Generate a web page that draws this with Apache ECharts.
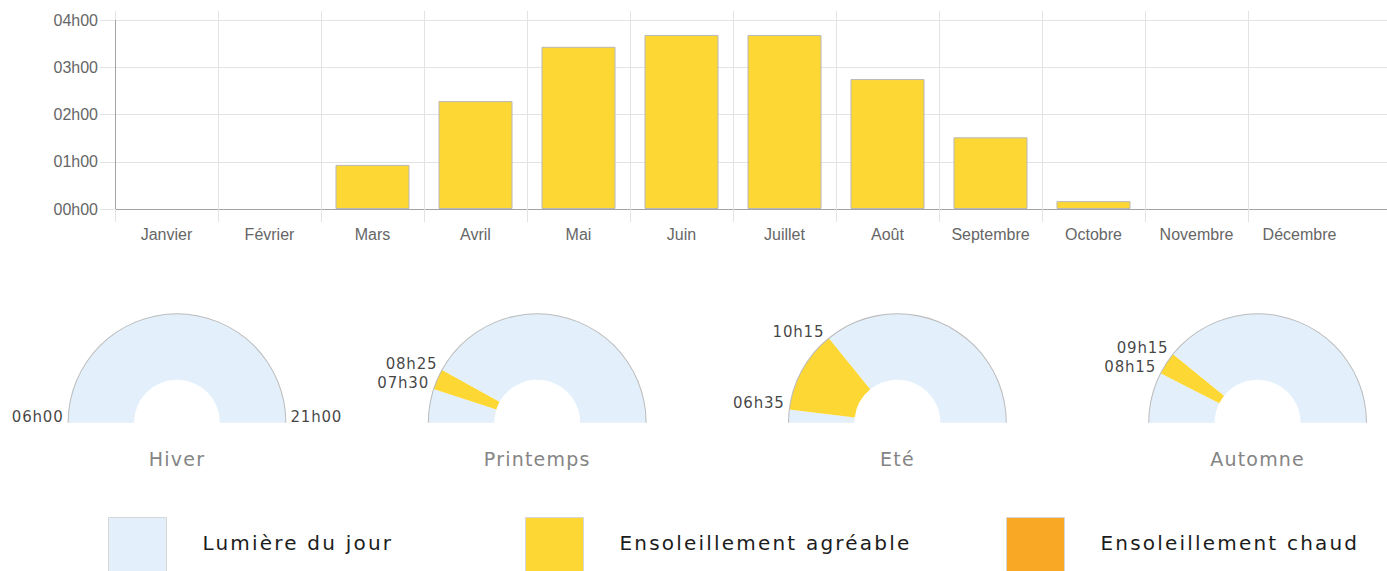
<!DOCTYPE html>
<html lang="fr">
<head>
<meta charset="utf-8">
<title>Ensoleillement</title>
<script src="https://cdn.jsdelivr.net/npm/echarts@6.0.0/dist/echarts.min.js"></script>
<style>
  html, body { margin: 0; padding: 0; background: #fff; }
  #chart { width: 1387px; height: 571px; }
  /* echarts has no letterSpacing option, with the svg renderer css can do it */
  #chart text[style*="19px"] { letter-spacing: 1.2px; }
  #chart text[style*="20px"] { letter-spacing: 2.2px; }
  #chart text[style*="15px"] { letter-spacing: 0.8px; }
</style>
</head>
<body>
<div id="chart"></div>
<script>
// monthly hours of pleasant sunshine, in minutes
const months = ['Janvier', 'Février', 'Mars', 'Avril', 'Mai', 'Juin', 'Juillet', 'Août', 'Septembre', 'Octobre', 'Novembre', 'Décembre'];
const agreableMinutes = [0, 0, 56, 137, 206, 221, 221, 165, 91, 10, 0, 0];
const chaudMinutes = [0, 0, 0, 0, 0, 0, 0, 0, 0, 0, 0, 0];

// one half donut per season: daylight span and pleasant sunshine span
const seasons = ['Hiver', 'Printemps', 'Eté', 'Automne'];
const dayStart = ['06h00', '06h00', '06h00', '06h00'];
const dayEnd = ['21h00', '21h00', '21h00', '21h00'];
const sunStart = [null, '07h30', '06h35', '08h15'];
const sunEnd = [null, '08h25', '10h15', '09h15'];

const legendNames = ['Lumière du jour', 'Ensoleillement agréable', 'Ensoleillement chaud'];

const BLUE = '#e3f0fb';
const YELLOW = '#fdd835';
const ORANGE = '#f9a825';
const GRID = '#e3e3e3';
const AXIS = '#a3a3a3';
const SANS = '"Liberation Sans", Arial, sans-serif';
const ROUND = '"DejaVu Sans", sans-serif';

const toMin = (s) => {
  const [h, m] = s.split('h').map(Number);
  return h * 60 + m;
};
const pad = (n) => String(n).padStart(2, '0');
const fmt = (m) => pad(Math.floor(m / 60)) + 'h' + pad(m % 60);
// empty months draw no bar at all
const bars = (arr) => arr.map((v) => (v ? v : '-'));

const chart = echarts.init(document.getElementById('chart'), null, { renderer: 'svg' });

// bands are 103px wide, the axis keeps going to the right edge,
// so an empty 13th band is added and its boundary line hidden
const keepBoundary = (i) => i < months.length;
const band = 103;

const CY = 422.7;
const R_OUT = 109;
const R_IN = 43;
const cx = (i) => 177 + i * 360.2;

const pies = [];
const rings = [];
const marks = [];
const polar = [];
const angleAxis = [];
const radiusAxis = [];
const titles = [];

seasons.forEach((season, i) => {
  const d0 = toMin(dayStart[i]);
  const span = toMin(dayEnd[i]) - d0;
  let slices;
  let points;
  if (sunStart[i]) {
    const a = toMin(sunStart[i]) - d0;
    const b = toMin(sunEnd[i]) - d0;
    slices = [
      { name: legendNames[0], value: a, itemStyle: { color: BLUE } },
      { name: legendNames[1], value: b - a, itemStyle: { color: YELLOW } },
      { name: legendNames[0], value: span - b, itemStyle: { color: BLUE } },
    ];
    points = [
      { name: sunStart[i], value: [1, a], label: { position: 'left' } },
      { name: sunEnd[i], value: [1, b], label: { position: 'left' } },
    ];
  } else {
    slices = [{ name: legendNames[0], value: span, itemStyle: { color: BLUE } }];
    points = [
      { name: dayStart[i], value: [1, 0], label: { position: 'left' } },
      { name: dayEnd[i], value: [1, span], label: { position: 'right' } },
    ];
  }

  pies.push({
    type: 'pie',
    name: season,
    center: [cx(i), CY],
    radius: [R_IN, R_OUT],
    startAngle: 180,
    endAngle: 0,
    clockwise: true,
    silent: true,
    label: { show: false },
    labelLine: { show: false },
    data: slices,
  });
  rings.push({
    type: 'pie',
    name: 'contour',
    center: [cx(i), CY],
    radius: [R_OUT - 0.6, R_OUT + 0.4],
    startAngle: 180,
    endAngle: 0,
    silent: true,
    label: { show: false },
    labelLine: { show: false },
    itemStyle: { color: '#bcbcbc' },
    data: [{ name: 'contour', value: 1 }],
  });

  polar.push({ center: [cx(i), CY], radius: R_OUT });
  angleAxis.push({
    polarIndex: i,
    type: 'value',
    min: 0,
    max: span * 2,
    startAngle: 180,
    clockwise: true,
    show: false,
  });
  radiusAxis.push({ polarIndex: i, type: 'value', min: 0, max: 1, show: false });
  marks.push({
    type: 'scatter',
    coordinateSystem: 'polar',
    polarIndex: i,
    symbolSize: 1,
    silent: true,
    itemStyle: { color: 'rgba(0,0,0,0)' },
    label: {
      show: true,
      formatter: '{b}',
      distance: 4,
      offset: [0, -6],
      color: '#111',
      fontSize: 15,
      fontFamily: ROUND,
    },
    data: points,
  });

  titles.push({
    text: season,
    left: cx(i),
    top: 449,
    textAlign: 'center',
    padding: 0,
    textStyle: { fontFamily: ROUND, fontSize: 19, fontWeight: 'normal', color: '#858585' },
  });
});

const legendLefts = [108, 525, 1006];
const legends = legendNames.map((name, k) => ({
  data: [name],
  left: legendLefts[k],
  top: 517,
  padding: 0,
  icon: 'rect',
  itemWidth: 58,
  itemHeight: 58,
  selectedMode: false,
  itemStyle: { borderColor: '#d6d6d6', borderWidth: 1 },
  // text sits a little above the middle of the square
  formatter: '{t|{name}}',
  textStyle: {
    rich: {
      t: { fontFamily: ROUND, fontSize: 20, color: '#1c1c1c', padding: [0, 0, 8, 31] },
    },
  },
}));

chart.setOption({
  animation: false,
  title: titles,
  legend: legends,
  grid: [{
    left: 115,
    top: 20,
    width: band * (months.length + 1),
    height: 189,
    outerBoundsMode: 'none',
    containLabel: false,
  }],
  xAxis: [
    {
      type: 'category',
      data: [...months, ''],
      axisLine: { lineStyle: { color: AXIS } },
      axisTick: { show: true, length: 13, interval: keepBoundary, lineStyle: { color: GRID } },
      splitLine: { show: true, interval: keepBoundary, lineStyle: { color: GRID } },
      axisLabel: { interval: 0, margin: 17, color: '#666', fontSize: 16, fontFamily: SANS },
    },
    {
      type: 'category',
      position: 'top',
      data: [...months, ''],
      axisLine: { show: false },
      axisTick: { show: true, length: 9, interval: keepBoundary, lineStyle: { color: GRID } },
      axisLabel: { show: false },
      splitLine: { show: false },
    },
  ],
  yAxis: [
    {
      type: 'value',
      min: 0,
      max: 240,
      interval: 60,
      axisLine: { show: true, lineStyle: { color: AXIS } },
      axisTick: { show: true, length: 15, lineStyle: { color: GRID } },
      splitLine: { lineStyle: { color: GRID } },
      axisLabel: { formatter: fmt, margin: 17, color: '#666', fontSize: 16, fontFamily: SANS },
    },
  ],
  polar,
  angleAxis,
  radiusAxis,
  series: [
    {
      name: legendNames[1],
      type: 'bar',
      stack: 'soleil',
      barWidth: 74,
      itemStyle: { color: YELLOW, borderColor: '#b8b8b8', borderWidth: 1 },
      data: bars(agreableMinutes),
    },
    {
      name: legendNames[2],
      type: 'bar',
      stack: 'soleil',
      barWidth: 74,
      itemStyle: { color: ORANGE, borderColor: '#b8b8b8', borderWidth: 1 },
      data: bars(chaudMinutes),
    },
    ...pies,
    ...rings,
    ...marks,
  ],
});
</script>
</body>
</html>
